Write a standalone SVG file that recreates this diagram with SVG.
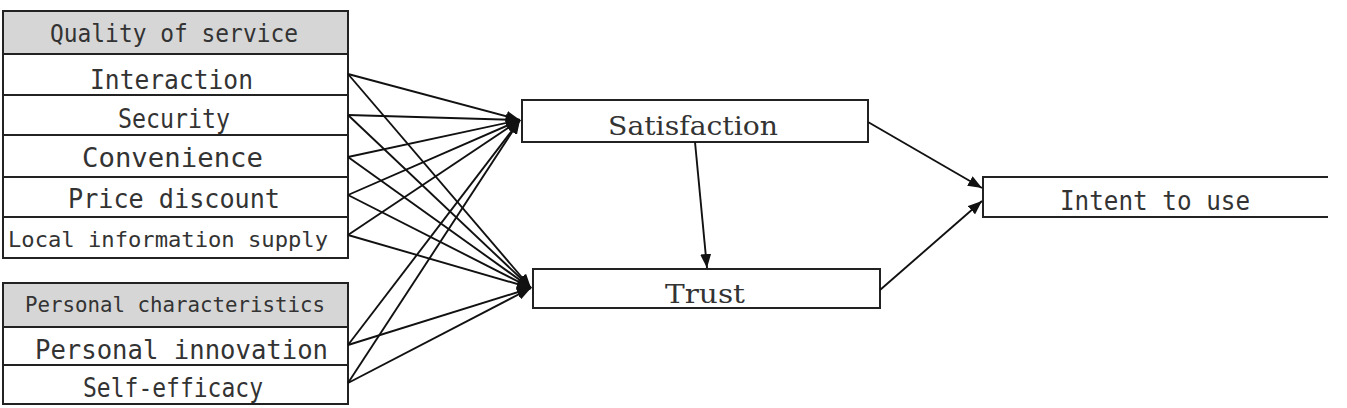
<svg xmlns="http://www.w3.org/2000/svg" width="1347" height="408" viewBox="0 0 1347 408">
<defs>
<marker id="ah" viewBox="0 0 14 11" refX="14" refY="5.5" markerWidth="14" markerHeight="11" markerUnits="userSpaceOnUse" orient="auto">
<path d="M0,0 L14,5.5 L0,11 Z" fill="#111"/>
</marker>
<style>
.box{fill:#fff;stroke:#222;stroke-width:2}
.hdr{fill:#d6d6d6;stroke:#222;stroke-width:2}
.m{font-family:"DejaVu Sans Mono","Liberation Mono",monospace;fill:#333}
.s{font-family:"DejaVu Serif","Liberation Serif",serif;fill:#333}
.c{stroke:#111;stroke-width:1.9;fill:none;marker-end:url(#ah)}
</style>
</defs>
<rect width="1347" height="408" fill="#fff"/>
<g id="quality">
<rect class="hdr" x="3" y="11" width="345" height="43"/>
<text class="m" x="50" y="42" font-size="24" textLength="248" lengthAdjust="spacingAndGlyphs">Quality of service</text>
</g>
<g id="interaction">
<rect class="box" x="3" y="54" width="345" height="41"/>
<text class="m" x="90" y="89" font-size="26" textLength="163" lengthAdjust="spacingAndGlyphs">Interaction</text>
</g>
<g id="security">
<rect class="box" x="3" y="95" width="345" height="40"/>
<text class="m" x="118" y="128" font-size="26" textLength="112" lengthAdjust="spacingAndGlyphs">Security</text>
</g>
<g id="convenience">
<rect class="box" x="3" y="135" width="345" height="42"/>
<text class="m" x="82" y="167" font-size="26" textLength="181" lengthAdjust="spacingAndGlyphs">Convenience</text>
</g>
<g id="price">
<rect class="box" x="3" y="177" width="345" height="40"/>
<text class="m" x="68" y="208" font-size="26" textLength="212" lengthAdjust="spacingAndGlyphs">Price discount</text>
</g>
<g id="local">
<rect class="box" x="3" y="217" width="345" height="41"/>
<text class="m" x="8" y="247" font-size="22" textLength="320" lengthAdjust="spacingAndGlyphs">Local information supply</text>
</g>
<g id="personal">
<rect class="hdr" x="3" y="283" width="345" height="44"/>
<text class="m" x="25" y="312" font-size="22" textLength="300" lengthAdjust="spacingAndGlyphs">Personal characteristics</text>
</g>
<g id="innovation">
<rect class="box" x="3" y="327" width="345" height="38"/>
<text class="m" x="35" y="359" font-size="26" textLength="293" lengthAdjust="spacingAndGlyphs">Personal innovation</text>
</g>
<g id="efficacy">
<rect class="box" x="3" y="365" width="345" height="39"/>
<text class="m" x="83" y="397" font-size="26" textLength="180" lengthAdjust="spacingAndGlyphs">Self-efficacy</text>
</g>
<g id="satisfaction">
<rect class="box" x="522" y="100" width="346" height="42"/>
<text class="s" x="608" y="135" font-size="26" textLength="170" lengthAdjust="spacingAndGlyphs">Satisfaction</text>
</g>
<g id="trust">
<rect class="box" x="533" y="269" width="347" height="39"/>
<text class="s" x="665" y="303" font-size="26" textLength="80" lengthAdjust="spacingAndGlyphs">Trust</text>
</g>
<g id="intent">
<path d="M1328,177 H983 V217 H1328" fill="#fff" stroke="#222" stroke-width="2"/>
<text class="m" x="1060" y="210" font-size="26" textLength="190" lengthAdjust="spacingAndGlyphs">Intent to use</text>
</g>
<g id="connectors">
<line class="c" x1="348" y1="74" x2="520" y2="120"/>
<line class="c" x1="348" y1="115" x2="520" y2="120"/>
<line class="c" x1="348" y1="157" x2="520" y2="120"/>
<line class="c" x1="348" y1="195" x2="520" y2="120"/>
<line class="c" x1="348" y1="235" x2="520" y2="120"/>
<line class="c" x1="348" y1="345" x2="520" y2="120"/>
<line class="c" x1="348" y1="383" x2="520" y2="120"/>
<line class="c" x1="348" y1="74" x2="531" y2="288"/>
<line class="c" x1="348" y1="115" x2="531" y2="288"/>
<line class="c" x1="348" y1="157" x2="531" y2="288"/>
<line class="c" x1="348" y1="195" x2="531" y2="288"/>
<line class="c" x1="348" y1="235" x2="531" y2="288"/>
<line class="c" x1="348" y1="345" x2="531" y2="288"/>
<line class="c" x1="348" y1="383" x2="531" y2="288"/>
<line class="c" x1="695" y1="142" x2="707" y2="268"/>
<line class="c" x1="868" y1="122" x2="982" y2="188"/>
<line class="c" x1="880" y1="290" x2="982" y2="201"/>
</g>
</svg>
